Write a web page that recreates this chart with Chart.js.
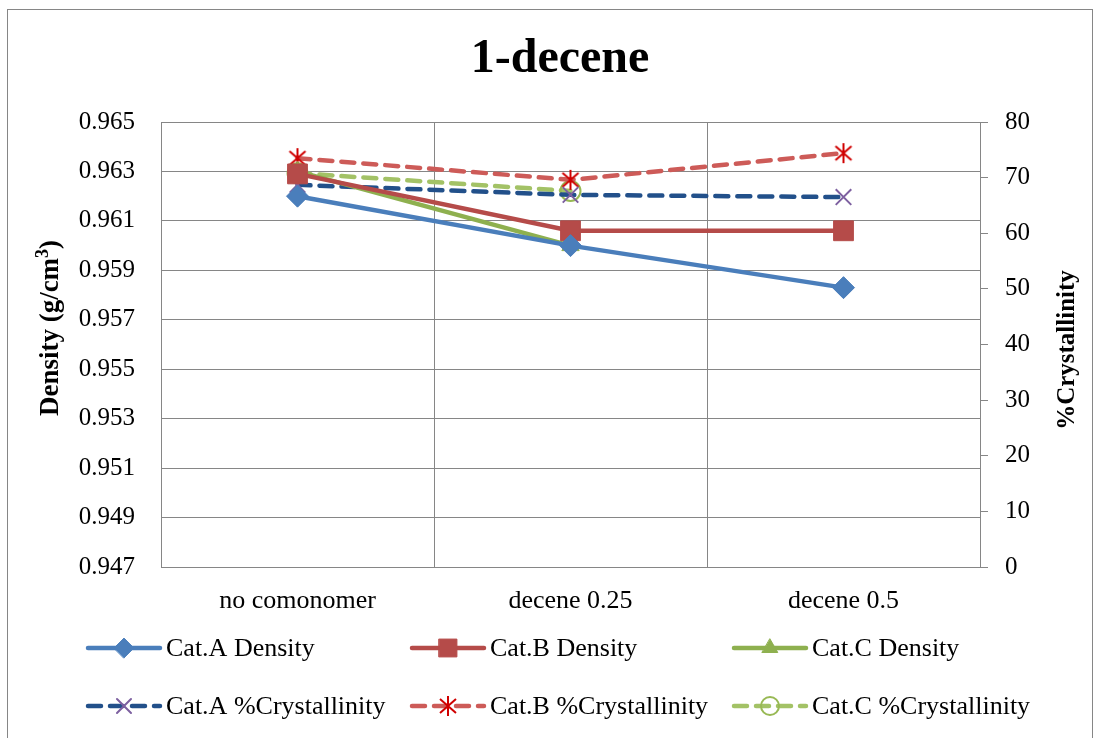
<!DOCTYPE html>
<html>
<head>
<meta charset="utf-8">
<script src="https://cdn.jsdelivr.net/npm/chart.js@4/dist/chart.umd.min.js"></script>
<style>
  html, body { margin: 0; padding: 0; background: #fff; }
</style>
</head>
<body>
<canvas id="chart" width="1099" height="738"></canvas>
<script>
const categories = ['no comonomer', 'decene 0.25', 'decene 0.5'];
const catADensity = [0.962, 0.960, 0.9583];
const catBDensity = [0.9629, 0.9606, 0.9606];
const catCDensity = [0.963, 0.960, null];
const catACryst = [68.7, 66.9, 66.5];
const catBCryst = [73.5, 69.6, 74.4];
const catCCryst = [70.8, 67.6, null];
const densityTicks = [0.947, 0.949, 0.951, 0.953, 0.955, 0.957, 0.959, 0.961, 0.963, 0.965];
const crystTicks = [0, 10, 20, 30, 40, 50, 60, 70, 80];

const serif = '"Liberation Serif", "Times New Roman", serif';
const gridColor = '#868686';

// asterisk marker (x plus vertical bar) for Cat.B %Crystallinity
function makeStar(color) {
    const c = document.createElement('canvas');
    c.width = 22; c.height = 22;
    const g = c.getContext('2d');
    g.strokeStyle = color;
    g.lineWidth = 2;
    g.beginPath();
    g.moveTo(11, 1); g.lineTo(11, 21);
    g.moveTo(3, 4); g.lineTo(19, 18);
    g.moveTo(19, 4); g.lineTo(3, 18);
    g.stroke();
    return c;
}
const starMarker = makeStar('#d00000');

function solid(label, data, color, style, radius) {
    return {
        label, data, yAxisID: 'y',
        borderColor: color, backgroundColor: color,
        borderWidth: 4.5, borderCapStyle: 'round',
        pointStyle: style, pointRadius: radius, pointHoverRadius: radius,
        pointBackgroundColor: color, pointBorderColor: color, pointBorderWidth: 1,
        tension: 0
    };
}
function dashed(label, data, color, style, radius, markColor, fill) {
    return {
        label, data, yAxisID: 'y1',
        borderColor: color, backgroundColor: color,
        borderWidth: 4.5, borderCapStyle: 'round', borderDash: [13, 9],
        pointStyle: style, pointRadius: radius, pointHoverRadius: radius,
        pointBackgroundColor: fill, pointBorderColor: markColor, pointBorderWidth: 2,
        tension: 0
    };
}

const datasets = [
    solid('Cat.A Density', catADensity, '#4a7ebb', 'rectRot', 11),
    solid('Cat.B Density', catBDensity, '#b54b49', 'rect', 14),
    solid('Cat.C Density', catCDensity, '#8eb04f', 'triangle', 10),
    dashed('Cat.A %Crystallinity', catACryst, '#22508a', 'crossRot', 11, '#7d60a0', 'transparent'),
    dashed('Cat.B %Crystallinity', catBCryst, '#cd5b58', starMarker, 11, '#d00000', 'transparent'),
    dashed('Cat.C %Crystallinity', catCCryst, '#a3c266', 'circle', 10, '#98b954', 'transparent')
];

// frame, title, axis titles and the two-row legend
const decorations = {
    id: 'decorations',
    beforeDraw(chart) {
        const ctx = chart.ctx;
        ctx.save();
        ctx.fillStyle = '#fff';
        ctx.fillRect(0, 0, chart.width, chart.height);
        ctx.strokeStyle = gridColor;
        ctx.lineWidth = 1;
        ctx.strokeRect(7.5, 9.5, 1085, 740);
        ctx.restore();
    },
    afterDraw(chart) {
        const ctx = chart.ctx;
        ctx.save();
        ctx.fillStyle = '#000';
        ctx.textAlign = 'center';
        ctx.textBaseline = 'middle';
        ctx.font = 'bold 48px ' + serif;
        ctx.fillText('1-decene', 560, 60);
        ctx.restore();

        // left title with a real superscript 3
        ctx.save();
        ctx.fillStyle = '#000';
        ctx.textBaseline = 'alphabetic';
        ctx.translate(58, 328);
        ctx.rotate(-Math.PI / 2);
        const main = 'bold 27px ' + serif, sup = 'bold 18px ' + serif;
        ctx.font = main;
        const w1 = ctx.measureText('Density (g/cm').width;
        const w3 = ctx.measureText(')').width;
        ctx.font = sup;
        const w2 = ctx.measureText('3').width;
        let x = -(w1 + w2 + w3) / 2;
        ctx.font = main;
        ctx.fillText('Density (g/cm', x, 0);
        ctx.font = sup;
        ctx.fillText('3', x + w1, -10);
        ctx.font = main;
        ctx.fillText(')', x + w1 + w2, 0);
        ctx.restore();

        ctx.save();
        ctx.fillStyle = '#000';
        ctx.textAlign = 'center';
        ctx.textBaseline = 'middle';
        ctx.font = 'bold 25px ' + serif;
        ctx.translate(1068, 350);
        ctx.rotate(-Math.PI / 2);
        ctx.fillText('%Crystallinity', 0, 0);
        ctx.restore();

        const cols = [88, 412, 734];
        const rows = [648, 706];
        datasets.forEach((ds, i) => {
            const x0 = cols[i % 3];
            const y = rows[Math.floor(i / 3)];
            ctx.save();
            ctx.strokeStyle = ds.borderColor;
            ctx.lineWidth = ds.borderWidth;
            ctx.lineCap = 'round';
            ctx.setLineDash(ds.borderDash || []);
            ctx.beginPath();
            ctx.moveTo(x0, y);
            ctx.lineTo(x0 + 72, y);
            ctx.stroke();
            ctx.setLineDash([]);
            ctx.fillStyle = ds.pointBackgroundColor;
            ctx.strokeStyle = ds.pointBorderColor;
            ctx.lineWidth = ds.pointBorderWidth;
            Chart.helpers.drawPoint(ctx, {
                pointStyle: ds.pointStyle,
                radius: ds.pointRadius * 0.9,
                borderWidth: ds.pointBorderWidth,
                rotation: 0
            }, x0 + 36, y);
            ctx.fillStyle = '#000';
            ctx.font = '26px ' + serif;
            ctx.textAlign = 'left';
            ctx.textBaseline = 'middle';
            ctx.fillText(ds.label, x0 + 78, y + 1);
            ctx.restore();
        });
    }
};

new Chart(document.getElementById('chart'), {
    type: 'line',
    data: { labels: categories, datasets },
    options: {
        responsive: false,
        animation: false,
        devicePixelRatio: 1,
        layout: { padding: { top: 122, left: 0, right: 0, bottom: 121 } },
        plugins: { legend: { display: false }, tooltip: { enabled: false } },
        scales: {
            x: {
                offset: true,
                grid: { offset: true, color: gridColor, lineWidth: 1, drawTicks: false },
                border: { color: gridColor },
                ticks: { padding: 19, color: '#000', font: { family: serif, size: 26 } },
                afterFit: s => { s.height = 50; }
            },
            y: {
                position: 'left',
                min: 0.947, max: 0.965,
                afterBuildTicks: s => { s.ticks = densityTicks.map(v => ({ value: v })); },
                grid: { color: gridColor, lineWidth: 1, drawTicks: false },
                border: { color: gridColor },
                ticks: { padding: 26, color: '#000', font: { family: serif, size: 25 },
                         callback: v => Number(v).toFixed(3) },
                afterFit: s => { s.width = 161; }
            },
            y1: {
                position: 'right',
                min: 0, max: 80,
                afterBuildTicks: s => { s.ticks = crystTicks.map(v => ({ value: v })); },
                grid: { drawOnChartArea: false, drawTicks: true, tickLength: 8, color: gridColor },
                border: { color: gridColor },
                ticks: { padding: 17, color: '#000', font: { family: serif, size: 25 } },
                afterFit: s => { s.width = 119; }
            }
        }
    },
    plugins: [decorations]
});
</script>
</body>
</html>
